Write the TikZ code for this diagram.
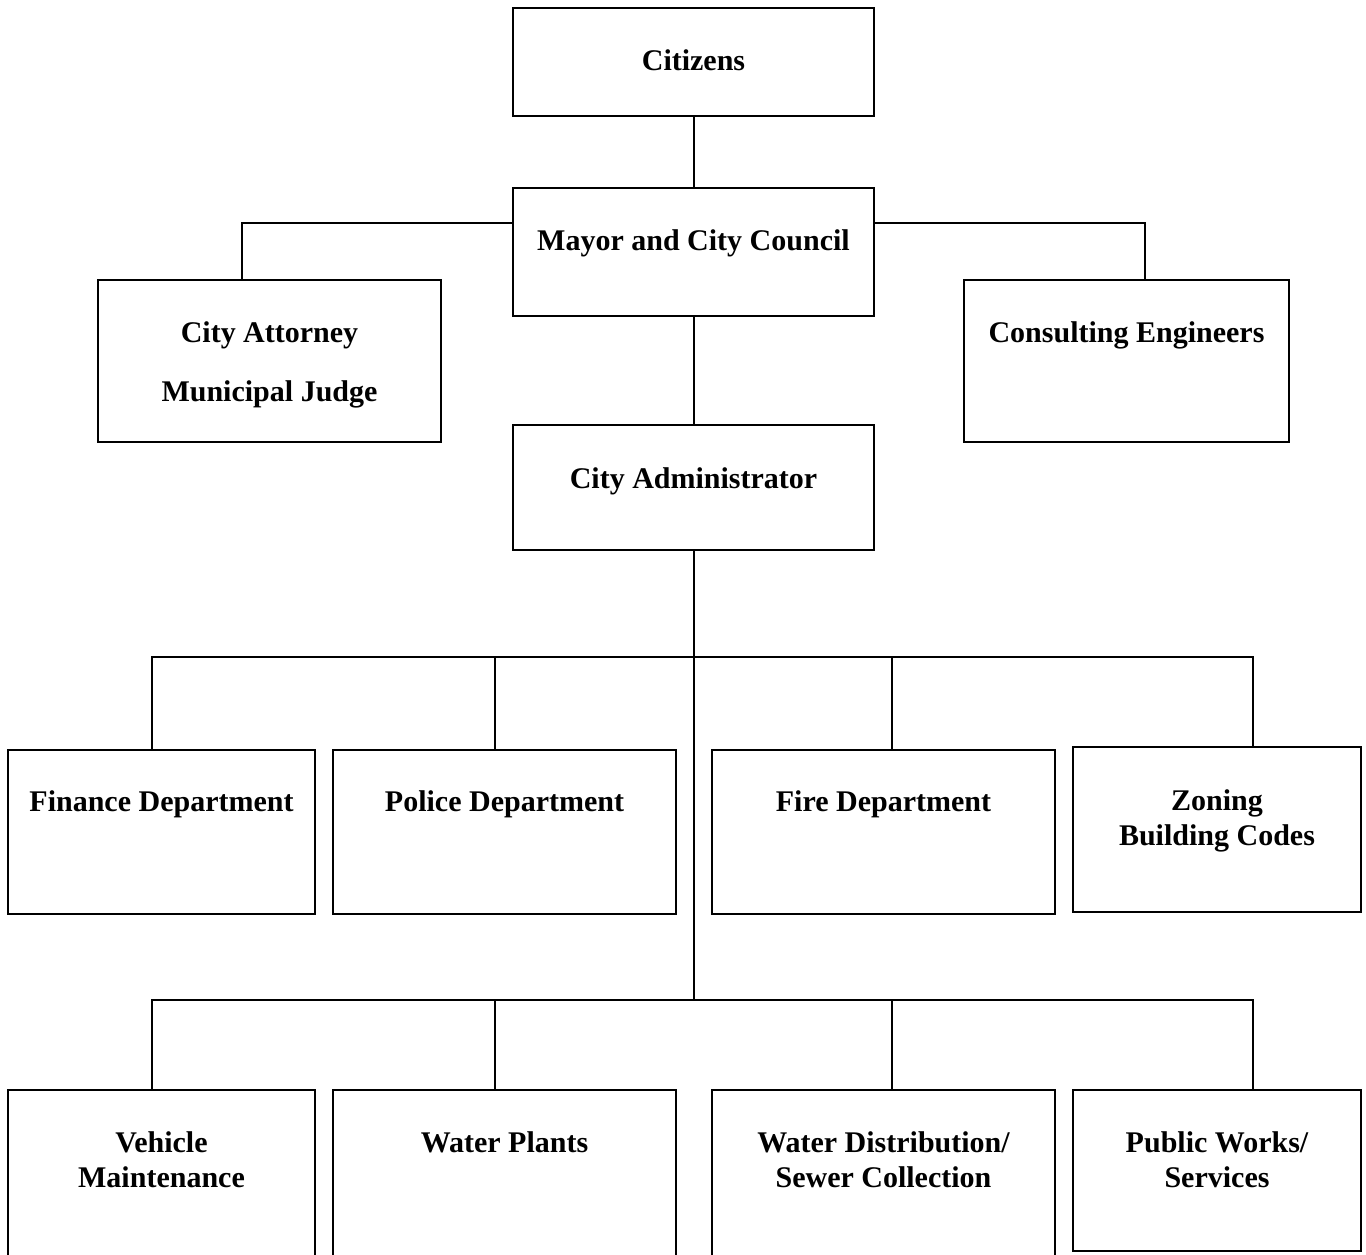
\documentclass[tikz,border=0pt]{standalone}
\usepackage{fontspec}
\setmainfont{Liberation Serif}
\usetikzlibrary{calc}
\begin{document}
\begin{tikzpicture}[x=0.5pt,y=-0.5pt,
  box/.style={draw,line width=1pt,inner sep=0pt,fill=white},
  lbl/.style={anchor=base,inner sep=0pt,font=\fontsize{15}{17.5}\selectfont\bfseries},
  conn/.style={line width=1pt}]
\useasboundingbox (0,0) rectangle (1366,1254);
% boxes
\node[box,minimum width=180.5pt,minimum height=54pt] (cit) at (693.5,62) {};
\node[box,minimum width=180.5pt,minimum height=64pt] (mayor) at (693.5,252) {};
\node[box,minimum width=171.5pt,minimum height=81pt] (atty) at (269.5,361) {};
\node[box,minimum width=162.5pt,minimum height=81pt] (cons) at (1126.5,361) {};
\node[box,minimum width=180.5pt,minimum height=62.5pt] (admin) at (693.5,487.5) {};
\node[box,minimum width=153.5pt,minimum height=82pt] (fin) at (161.5,832) {};
\node[box,minimum width=171.5pt,minimum height=82pt] (pol) at (504.5,832) {};
\node[box,minimum width=171.5pt,minimum height=82pt] (fire) at (883.5,832) {};
\node[box,minimum width=144pt,minimum height=82.5pt] (zon) at (1217,829.5) {};
\node[box,minimum width=153.5pt,minimum height=84pt] (veh) at (161.5,1174) {};
\node[box,minimum width=171.5pt,minimum height=84pt] (wp) at (504.5,1174) {};
\node[box,minimum width=171.5pt,minimum height=84pt] (wd) at (883.5,1174) {};
\node[box,minimum width=144pt,minimum height=80.5pt] (pw) at (1217,1170.5) {};
% labels
\node[lbl] (tcit) at (693.5,70) {Citizens};
\node[lbl] (tmayor) at (693.5,250) {Mayor and City Council};
\node[lbl] (tatty) at (269.5,342) {\begin{tabular}[t]{@{}c@{}}City Attorney\\[12pt] Municipal Judge\end{tabular}};
\node[lbl] (tcons) at (1126.5,342) {Consulting Engineers};
\node[lbl] (tadmin) at (693.5,488) {City Administrator};
\node[lbl] (tfin) at (161.5,811) {Finance Department};
\node[lbl] (tpol) at (504.5,811) {Police Department};
\node[lbl] (tfire) at (883.5,811) {Fire Department};
\node[lbl] (tzon) at (1217,810) {\begin{tabular}[t]{@{}c@{}}Zoning\\ Building Codes\end{tabular}};
\node[lbl] (tveh) at (161.5,1152) {\begin{tabular}[t]{@{}c@{}}Vehicle\\ Maintenance\end{tabular}};
\node[lbl] (twp) at (504.5,1152) {Water Plants};
\node[lbl] (twd) at (883.5,1152) {\begin{tabular}[t]{@{}c@{}}Water Distribution/\\ Sewer Collection\end{tabular}};
\node[lbl] (tpw) at (1217,1152) {\begin{tabular}[t]{@{}c@{}}Public Works/\\ Services\end{tabular}};
% junctions
\coordinate (j1) at (693.5,657);
\coordinate (j2) at (693.5,1000);
% connectors
\draw[conn] (cit.south) -- (mayor.north);
\draw[conn] ($(mayor.north west)!0.28!(mayor.south west)$) -| ($(atty.north west)!0.42!(atty.north east)$);
\draw[conn] ($(mayor.north east)!0.28!(mayor.south east)$) -| ($(cons.north west)!0.556!(cons.north east)$);
\draw[conn] (mayor.south) -- (admin.north);
\draw[conn] (admin.south) -- (j2);
\draw[conn] ($(fin.north west)!0.47!(fin.north east)$) |- (j1) -| ($(zon.north west)!0.625!(zon.north east)$);
\draw[conn] ($(pol.north west)!0.472!(pol.north east)$) -- ++(0,-93);
\draw[conn] ($(fire.north west)!0.525!(fire.north east)$) -- ++(0,-93);
\draw[conn] ($(veh.north west)!0.47!(veh.north east)$) |- (j2) -| ($(pw.north west)!0.625!(pw.north east)$);
\draw[conn] ($(wp.north west)!0.472!(wp.north east)$) -- ++(0,-90);
\draw[conn] ($(wd.north west)!0.525!(wd.north east)$) -- ++(0,-90);
\end{tikzpicture}
\end{document}
